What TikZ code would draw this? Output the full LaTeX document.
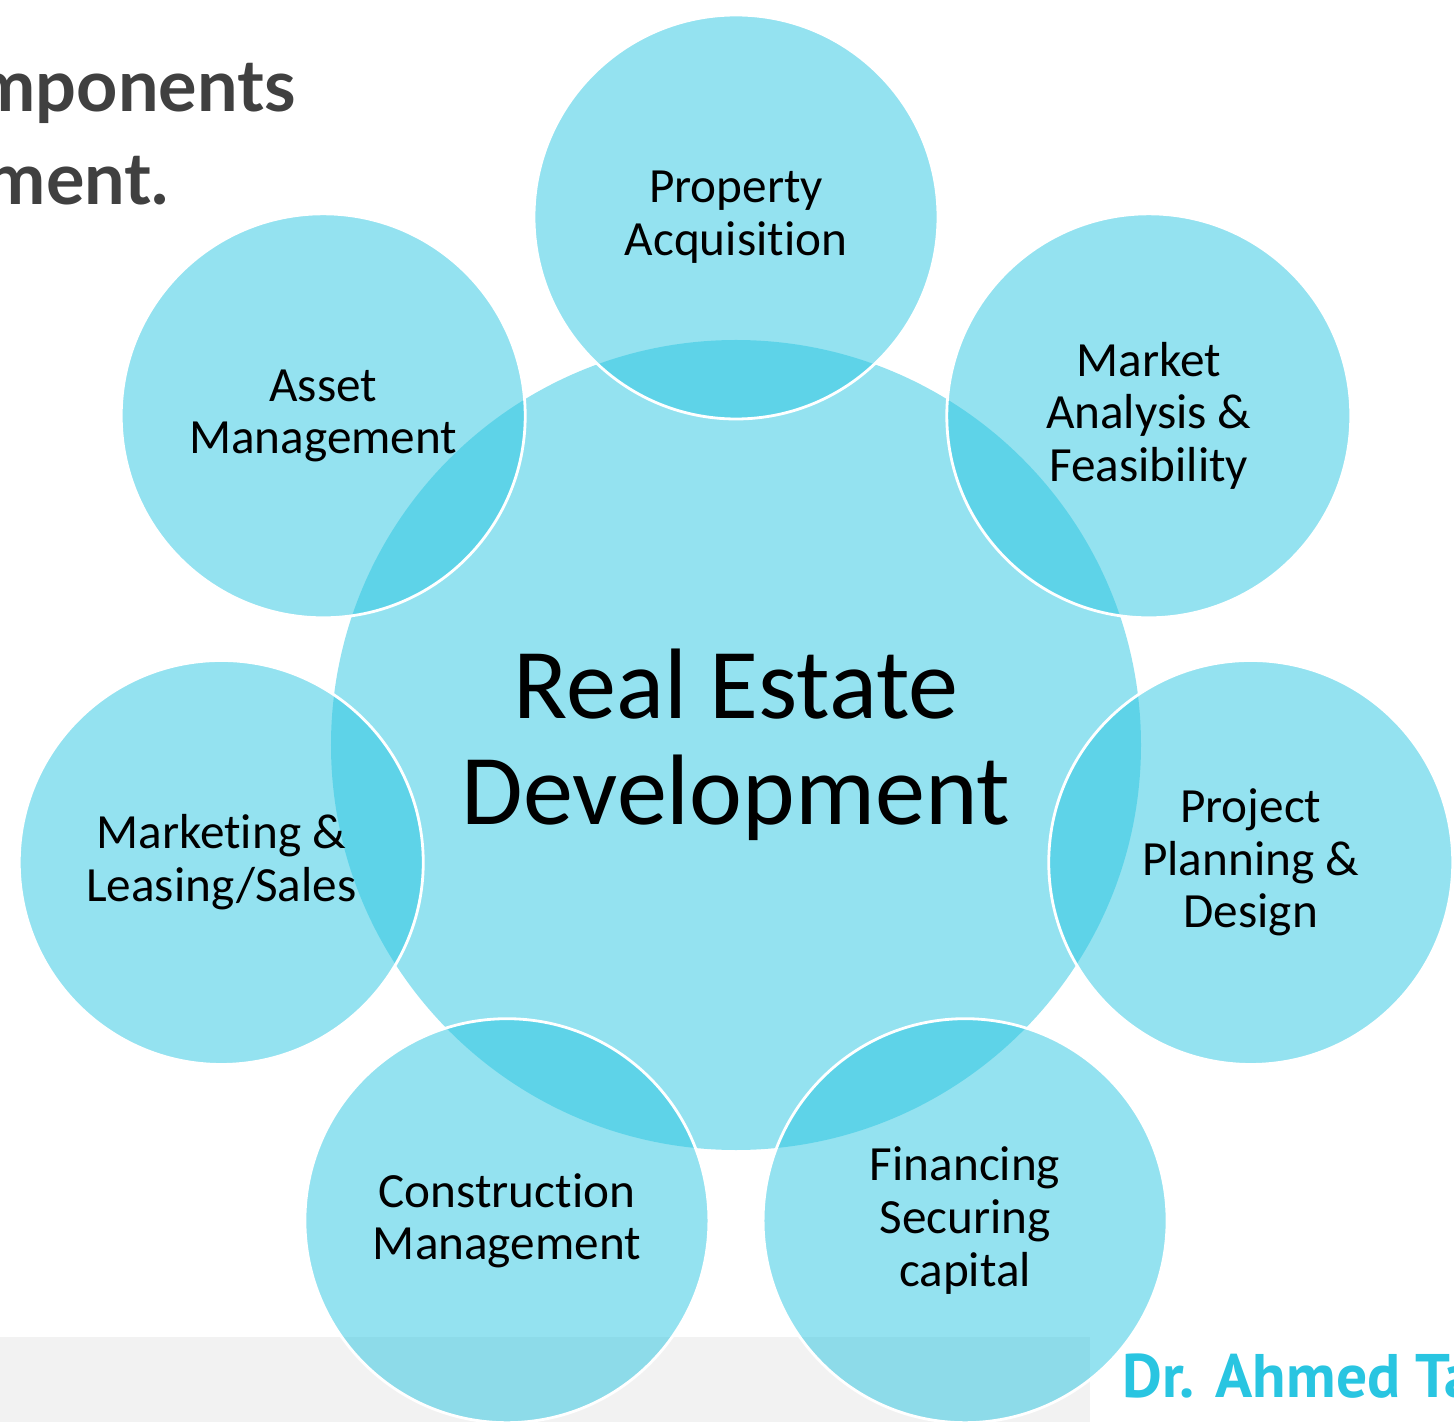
\documentclass[tikz,border=0pt]{standalone}
\usepackage{fontspec}
\setmainfont{Carlito}[Ligatures=NoCommon]
\newfontfamily\headfont{Lato}
\newfontfamily\signfont{PT Sans}
\usetikzlibrary{positioning}
\definecolor{radialcyan}{HTML}{29C5E1}
\definecolor{headgray}{HTML}{404040}
\definecolor{bandgray}{HTML}{F2F2F2}

\begin{document}
\begin{tikzpicture}[
    hub/.style={
      circle, minimum size=16.2cm, inner sep=0pt,
      fill=radialcyan, fill opacity=0.5, text opacity=1,
      align=center, font=\fontsize{57}{60}\selectfont
    },
    spoke/.style={
      circle, minimum size=8.08cm, inner sep=0pt,
      fill=radialcyan, fill opacity=0.5, text opacity=1,
      draw=white, draw opacity=1, line width=1.6pt,
      align=center, font=\fontsize{28}{30}\selectfont
    },
    head/.style={font=\headfont\bfseries\fontsize{41}{53}\selectfont, text=headgray, anchor=base east},
  ]
    \useasboundingbox (-14.72,-13.54) rectangle (14.36,14.9);
    \clip (-14.72,-13.54) rectangle (14.36,14.9);

    % footer band
    \fill[bandgray] (-14.72,-13.54) rectangle (7.08,-11.84);

    \node[head] (t1) at (-8.68,12.66) {mponents};
    \node[head] (t2) at (-11.22,10.80) {ment.};

    \node[hub] (hub) at (0,0) {Real Estate\\Development};

    \foreach \i/\txt in {0/{Property\\Acquisition},
                         1/{Market\\Analysis \&\\Feasibility},
                         2/{Project\\Planning \&\\Design},
                         3/{Financing\\Securing\\capital},
                         4/{Construction\\Management},
                         5/{Marketing \&\\Leasing/Sales},
                         6/{Asset\\Management}}{
      \node[spoke] (s\i) at ({90-360/7*\i}:10.56) {\txt};
    }

    \node[font=\signfont\bfseries\fontsize{35}{40}\selectfont, text=radialcyan, anchor=base west]
      (sign) at (7.6,-13.04) {Dr. Ahmed Ta};
  \end{tikzpicture}
\end{document}
